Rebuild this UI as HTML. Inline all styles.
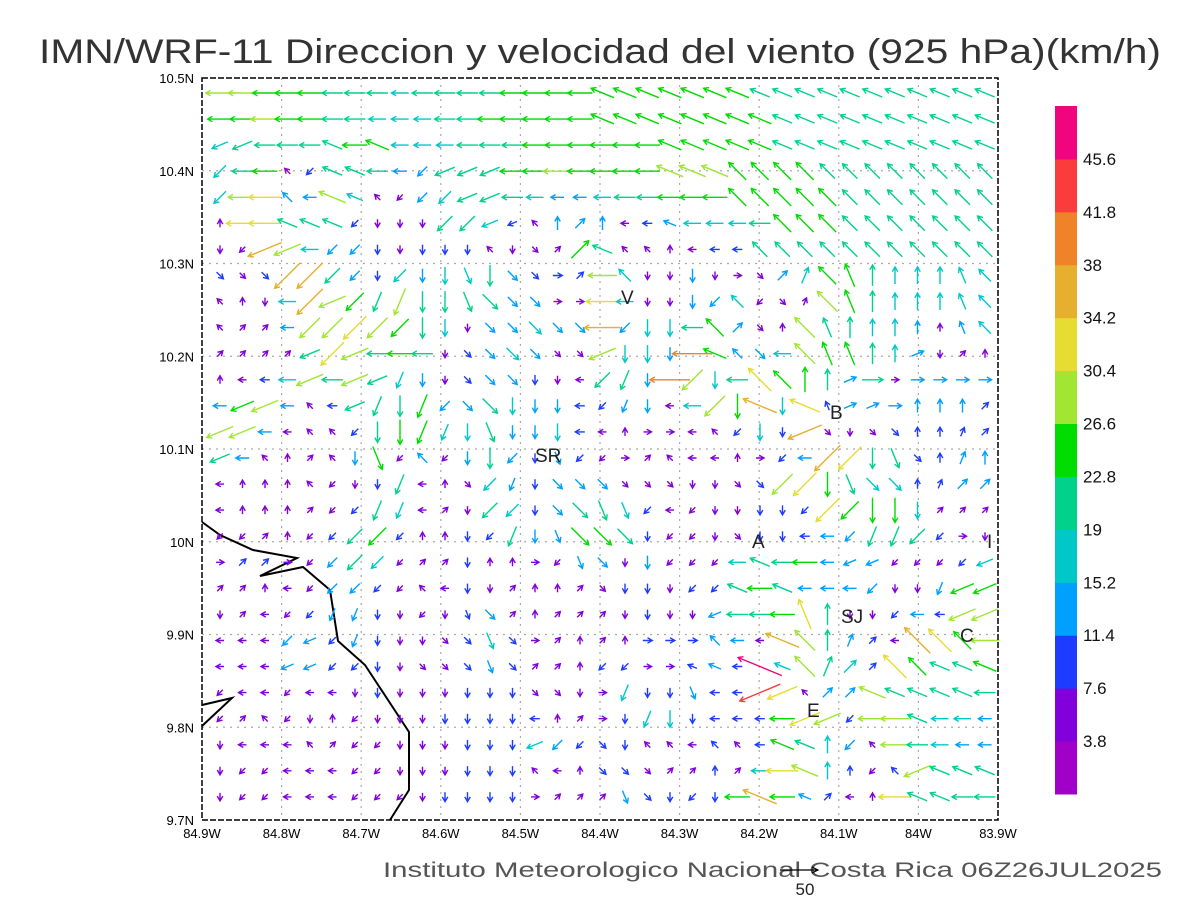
<!DOCTYPE html>
<html><head><meta charset="utf-8">
<style>
html,body{margin:0;padding:0;background:#fff;}
svg{display:block;font-family:"Liberation Sans",sans-serif;}
</style></head>
<body>
<svg id="chart" width="1200" height="900" viewBox="0 0 1200 900" xmlns="http://www.w3.org/2000/svg">
<text x="600" y="63" text-anchor="middle" font-size="34" textLength="1122" lengthAdjust="spacingAndGlyphs" fill="#333">IMN/WRF-11 Direccion y velocidad del viento (925 hPa)(km/h)</text>
<g id="grid"></g>
<g id="coast">
<polyline points="202,522 220,535 253,550 297,558 260,576 303,567 330,590 338,641 365,665 409,732 409,790 390,820" fill="none" stroke="#000" stroke-width="2"/>
<polyline points="202,705 232,698 202,726" fill="none" stroke="#000" stroke-width="2"/>
</g>
<g id="arrows"></g>
<g id="labels" font-size="19" fill="#222">
<text x="621" y="304">V</text>
<text x="830" y="419">B</text>
<text x="535" y="462">SR</text>
<text x="752" y="548">A</text>
<text x="987" y="548">I</text>
<text x="841" y="623">SJ</text>
<text x="960" y="642">C</text>
<text x="807" y="717">E</text>
</g>
<rect x="202" y="78" width="796" height="742" fill="none" stroke="#000" stroke-width="1.5" stroke-dasharray="6,2"/>
<g id="axes" font-size="13" fill="#000"></g>
<g id="cbar"></g>
<text x="383" y="877" font-size="21" fill="#555" textLength="779" lengthAdjust="spacingAndGlyphs">Instituto Meteorologico Nacional Costa Rica 06Z26JUL2025</text>
<g>
<line x1="780" y1="870" x2="818" y2="870" stroke="#000" stroke-width="1.2"/>
<polyline points="812,867 818,870 812,873" fill="none" stroke="#000" stroke-width="1.2"/>
<text x="805" y="895" font-size="17" text-anchor="middle" fill="#222">50</text>
</g>
</svg>
<script>
const NS="http://www.w3.org/2000/svg";
const colors=["#a000c8","#8200dc","#1e3cff","#00a0ff","#00c8c8","#00d28c","#00dc00","#a0e632","#e6dc32","#e6af2d","#f0822a","#fa3c3c","#f0057f"];
const cbarLabels=["3.8","7.6","11.4","15.2","19","22.8","26.6","30.4","34.2","38","41.8","45.6"];
const latTicks=[10.5,10.4,10.3,10.2,10.1,10.0,9.9,9.8,9.7];
const latLabels=["10.5N","10.4N","10.3N","10.2N","10.1N","10N","9.9N","9.8N","9.7N"];
const lonTicks=[-84.9,-84.8,-84.7,-84.6,-84.5,-84.4,-84.3,-84.2,-84.1,-84.0,-83.9];
const lonLabels=["84.9W","84.8W","84.7W","84.6W","84.5W","84.4W","84.3W","84.2W","84.1W","84W","83.9W"];
// direction codes (heading toward): 6=E 9=NE 8=N 7=NW 4=W 1=SW 2=S 3=SE; q=WNW r=WSW s=SSW t=NNW u=SSE v=NNE k=ENE
const dirRows=[
"44444 44444 44444 44qqq qqqqq qqqqq qqqqq",
"44444 44444 44444 44qqq qqqqq qqqqq qqqqq",
"rr444 q4q44 44444 44444 qqqqq qqqqq qqqqq",
"14471 qq441 rrr44 44444 qqq77 77777 77777",
"14474 qq711 1rr44 44444 44477 77777 77777",
"844qq q1222 11rr7 89844 q4444 77777 77777",
"21rr4 11222 22723 99q77 84447 77777 77777",
"33311 11212 2u233 69472 22263 9v7t8 888t7",
"78241 r1ss2 2u333 66442 22171 3v7t8 888t7",
"79941 11112 22333 33412 24793 87t88 888t7",
"9999r 1r444 23333 33r22 24q73 47tt8 8k298",
"8444r 4rrs2 23332 241s2 41247 788k6 66666",
"4rr47 4rs2s 13322 241s2 4412q 2qtkk 68889",
"rr447 7122s s2u22 24486 64712 2r323 388v9",
"r4789 72u17 12212 u1169 74486 14112 u38v8",
"48887 122s4 831s2 33333 32233 112u3 38v99",
"48889 11ss4 92112 33uu1 41222 21112 22999",
"11981 11118 821s2 u3332 11232 2441s s1162",
"69961 11119 92886 1u322 1114q 444rr 1111r",
"99841 11117 42298 89322 211q4 q4441 22srr",
"29411 ss221 2u398 99922 22r44 4t822 144rr",
"4441r 1s222 33u36 98986 66744 q78v9 47774",
"444rr 11223 33u39 98116 6qq4q q7v99 77qqq",
"14414 42222 22223 326s2 2u44r r799q qqqq4",
"19712 81222 22224 8962s 22444 4rr14 4q444",
"24447 91122 2222r 11327 74774 qq817 44444",
"21144 41122 22227 48333 99894 4q881 7rqqq",
"21144 41112 22226 999u3 2124q 4q948 4qq44"
];
const spdRows=[
"77666 55545 55566 66666 66665 55555 55555",
"66766 55444 55666 66666 66666 55555 55555",
"45555 56644 45556 66666 66666 55555 55555",
"45602 55533 55566 76666 77766 66555 55555",
"47833 74113 45554 33455 66666 66655 55555",
"18855 52111 55421 33312 34445 66655 55555",
"11974 33212 22111 16511 11225 55555 55555",
"21299 53243 44532 22741 13111 34665 44444",
"11149 76575 55533 11841 13341 11765 44444",
"11137 78765 41334 33934 45631 17554 43134",
"11115 87565 12343 11744 3a633 47665 43111",
"11247 57543 12332 11553 a7458 66535 13333",
"36731 25556 33543 32233 14769 48233 33332",
"77311 12566 44533 42111 11124 29111 22222",
"53111 13613 13532 32111 11111 23985 52233",
"11111 11251 11432 33311 11112 78654 42233",
"11111 12541 11542 35542 11112 22866 64111",
"11111 25621 12253 36652 11112 22335 55211",
"12211 35411 12111 13313 11145 56333 11124",
"11111 33211 12111 11122 12256 53333 11366",
"11112 33211 12311 11112 11355 68511 23277",
"11133 23211 12421 11112 22331 97532 19867",
"11133 22211 12321 11221 1232c 47542 86556",
"11111 11211 12221 11142 2322b 81337 55555",
"11111 11111 22222 11124 42222 68727 75443",
"11111 11111 12224 32221 11212 65431 75433",
"11111 11111 12221 11221 11214 87421 27555",
"11111 11111 22221 11132 22269 63211 85555"
];
const svg=document.getElementById('chart');
function mk(tag,attrs,parent){const e=document.createElementNS(NS,tag);for(const k in attrs)e.setAttribute(k,attrs[k]);parent.appendChild(e);return e;}
const lonX=lon=>202+(lon+84.9)*796;
const latY=lat=>78+(10.5-lat)*927.5;
const grid=document.getElementById('grid'), axes=document.getElementById('axes');
lonTicks.forEach((lon,i)=>{
  const x=lonX(lon);
  if(i>0&&i<lonTicks.length-1){const l=mk('line',{x1:x,y1:78,x2:x,y2:820,stroke:'#aaa','stroke-width':1.2,'stroke-dasharray':'2,5'},grid);
  
  }
  const t=mk('text',{x:x,y:838,'text-anchor':'middle'},axes);t.textContent=lonLabels[i];
  
  
});
latTicks.forEach((lat,i)=>{
  const y=latY(lat);
  if(i>0&&i<latTicks.length-1){const l=mk('line',{x1:202,y1:y,x2:998,y2:y,stroke:'#aaa','stroke-width':1.2,'stroke-dasharray':'2,5'},grid);
  
  }
  const t=mk('text',{x:194,y:y+5,'text-anchor':'end'},axes);t.textContent=latLabels[i];
  
  
});
const cb=document.getElementById('cbar');
const cbTop=106,cbBot=794,segH=(cbBot-cbTop)/13;
colors.forEach((c,k)=>{
  const r=mk('rect',{x:1055,y:cbBot-(k+1)*segH,width:22,height:segH+0.5,fill:c},cb);
  
  
});
cbarLabels.forEach((s,k)=>{
  const t=mk('text',{x:1083,y:cbBot-(k+1)*segH+6,'font-size':17,fill:'#111'},cb);t.textContent=s;
  
  
});
const ang={'6':0,'k':22.5,'9':45,'v':67.5,'8':90,'t':112.5,'7':135,'q':157.5,'4':180,'r':202.5,'1':225,'s':247.5,'2':270,'u':292.5,'3':315};
const ag=document.getElementById('arrows');
dirRows.forEach((row,r)=>{
  const d=row.replace(/ /g,''), s=spdRows[r].replace(/ /g,'');
  for(let c=0;c<d.length;c++){
    const cls=parseInt(s[c],16);
    const spd=cls===0?2:3.8*cls+1.9;
    const a=ang[d[c]]*Math.PI/180;
    const L=Math.max(8,spd*1.0);
    const cx=220+22.5*c, cy=93+26.07*r;
    const dx=Math.cos(a)*L/2, dy=-Math.sin(a)*L/2;
    const x1=cx-dx,y1=cy-dy,x2=cx+dx,y2=cy+dy;
    const h=5.5, ux=Math.cos(a), uy=-Math.sin(a);
    const hx1=x2-h*(ux*0.87-uy*0.5), hy1=y2-h*(uy*0.87+ux*0.5);
    const hx2=x2-h*(ux*0.87+uy*0.5), hy2=y2-h*(uy*0.87-ux*0.5);
    const p=mk('path',{d:`M${x1.toFixed(1)},${y1.toFixed(1)}L${x2.toFixed(1)},${y2.toFixed(1)}M${hx1.toFixed(1)},${hy1.toFixed(1)}L${x2.toFixed(1)},${y2.toFixed(1)}L${hx2.toFixed(1)},${hy2.toFixed(1)}`,stroke:colors[cls],'stroke-width':1.4,fill:'none'},ag);
    
    
  }
});
</script>
</body></html>
